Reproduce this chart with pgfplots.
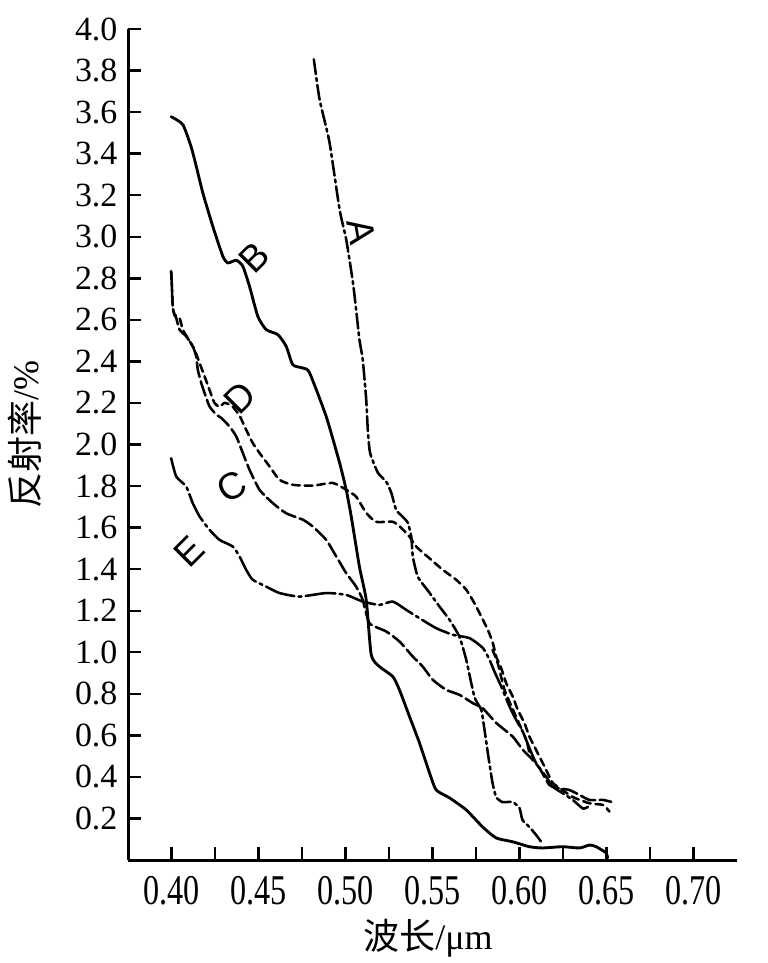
\documentclass[border=0pt]{standalone}
\usepackage{fontspec}
\usepackage{graphicx}
\usepackage{pgfplots}
\pgfplotsset{compat=1.18}
\setmainfont{Liberation Serif}
\setsansfont{Liberation Sans}
\newfontfamily\cjk{Noto Sans CJK SC}
\begin{document}
\begin{tikzpicture}
\begin{axis}[
  scale only axis,
  width=203pt, height=277pt,
  xmin=0.375, xmax=0.725, ymin=0, ymax=4.0,
  axis lines=left,
  axis line style={-, line width=1pt, black},
  tick align=inside,
  major tick length=4.2pt, minor tick length=4.2pt,
  tick style={line width=0.8pt, black},
  xtick={0.40,0.45,0.50,0.55,0.60,0.65,0.70},
  minor xtick={0.425,0.475,0.525,0.575,0.625,0.675},
  ytick={0.2,0.4,0.6,0.8,1.0,1.2,1.4,1.6,1.8,2.0,2.2,2.4,2.6,2.8,3.0,3.2,3.4,3.6,3.8,4.0},
  /pgf/number format/assume math mode=true,
  xticklabel={\scalebox{0.95}[1.25]{\pgfmathprintnumber[fixed,fixed zerofill,precision=2]{\tick}}},
  yticklabel={\pgfmathprintnumber[fixed,fixed zerofill,precision=1]{\tick}},
  ticklabel style={font=\fontsize{11.3}{13}\selectfont, black},
  xticklabel style={yshift=-2pt},
  xlabel={{\cjk 波长}/μm},
  ylabel={{\cjk 反射率}/\%},
  label style={font=\fontsize{12}{14}\selectfont},
  xlabel style={at={(axis description cs:0.4926,-0.094)}, anchor=center},
  ylabel style={at={(axis description cs:-0.17,0.5115)}, anchor=center, rotate=0},
  clip=false,
  every axis plot/.append style={black, line width=0.85pt, line join=round, line cap=round, smooth, tension=0.35},
]
% A
\addplot[dash pattern=on 5pt off 1.3pt on 1pt off 1.3pt] coordinates {
(0.4818,3.854)(0.4851,3.661)(0.4908,3.454)(0.4966,3.131)(0.5004,2.987)(0.5042,2.784)
(0.5061,2.649)(0.5080,2.505)(0.5099,2.408)(0.5119,2.216)(0.5128,2.071)(0.5138,1.975)
(0.5148,1.941)(0.5186,1.864)(0.5234,1.821)(0.5263,1.768)(0.5291,1.686)(0.5329,1.652)
(0.5358,1.623)(0.5378,1.556)(0.5387,1.460)(0.5416,1.363)(0.5483,1.286)(0.5540,1.220)
(0.5598,1.156)(0.5655,1.074)(0.5694,0.963)(0.5741,0.785)(0.5780,0.723)(0.5799,0.626)
(0.5818,0.515)(0.5845,0.371)(0.5866,0.303)(0.5902,0.279)(0.5960,0.279)(0.6000,0.250)
(0.6017,0.193)(0.6057,0.159)(0.6096,0.120)(0.6125,0.087)};
% B
\addplot[solid, line width=0.95pt] coordinates {
(0.3998,3.578)(0.4065,3.540)(0.4113,3.432)(0.4142,3.340)(0.4180,3.211)(0.4237,3.051)
(0.4295,2.906)(0.4324,2.874)(0.4372,2.887)(0.4410,2.858)(0.4448,2.762)(0.4496,2.617)
(0.4544,2.553)(0.4611,2.529)(0.4659,2.473)(0.4697,2.384)(0.4755,2.368)(0.4793,2.346)
(0.4889,2.135)(0.4966,1.912)(0.5004,1.782)(0.5033,1.653)(0.5080,1.412)(0.5119,1.252)
(0.5148,0.987)(0.5195,0.931)(0.5272,0.883)(0.5310,0.819)(0.5368,0.690)(0.5425,0.564)
(0.5483,0.419)(0.5521,0.337)(0.5598,0.299)(0.5694,0.241)(0.5787,0.160)(0.5866,0.106)
(0.5960,0.088)(0.6057,0.064)(0.6132,0.058)(0.6247,0.064)(0.6345,0.058)(0.6402,0.072)
(0.6441,0.064)(0.6498,0.034)(0.6506,0.010)};
% C
\addplot[dash pattern=on 5pt off 1.5pt] coordinates {
(0.3998,2.834)(0.4002,2.762)(0.4007,2.665)(0.4017,2.625)(0.4027,2.609)(0.4046,2.553)
(0.4084,2.521)(0.4122,2.473)(0.4142,2.424)(0.4151,2.360)(0.4171,2.296)(0.4190,2.248)
(0.4218,2.184)(0.4257,2.144)(0.4286,2.128)(0.4333,2.087)(0.4372,2.039)(0.4410,1.959)
(0.4448,1.879)(0.4506,1.782)(0.4582,1.718)(0.4659,1.669)(0.4755,1.638)(0.4812,1.605)
(0.4889,1.541)(0.4947,1.461)(0.5004,1.381)(0.5061,1.316)(0.5099,1.252)(0.5138,1.140)
(0.5234,1.100)(0.5310,1.052)(0.5387,0.979)(0.5444,0.931)(0.5502,0.867)(0.5579,0.819)
(0.5655,0.795)(0.5732,0.755)(0.5789,0.730)(0.5866,0.660)(0.5961,0.594)(0.6019,0.530)
(0.6067,0.490)(0.6115,0.442)(0.6172,0.361)(0.6230,0.345)(0.6287,0.337)(0.6345,0.313)
(0.6402,0.289)(0.6479,0.289)(0.6527,0.280)};
% D
\addplot[dash pattern=on 2.6pt off 1.6pt] coordinates {
(0.3998,2.834)(0.4002,2.762)(0.4007,2.665)(0.4017,2.625)(0.4046,2.609)(0.4065,2.553)
(0.4092,2.514)(0.4132,2.457)(0.4161,2.393)(0.4190,2.328)(0.4218,2.264)(0.4247,2.200)
(0.4276,2.182)(0.4305,2.201)(0.4333,2.192)(0.4352,2.182)(0.4391,2.139)(0.4429,2.071)
(0.4467,2.007)(0.4506,1.959)(0.4563,1.895)(0.4621,1.830)(0.4697,1.806)(0.4812,1.802)
(0.4927,1.815)(0.5004,1.782)(0.5061,1.749)(0.5119,1.671)(0.5176,1.628)(0.5272,1.628)
(0.5320,1.599)(0.5368,1.556)(0.5406,1.509)(0.5483,1.452)(0.5559,1.397)(0.5636,1.349)
(0.5694,1.301)(0.5741,1.236)(0.5780,1.172)(0.5818,1.108)(0.5847,1.044)(0.5866,0.979)
(0.5895,0.923)(0.5924,0.850)(0.5961,0.787)(0.5990,0.723)(0.6029,0.658)(0.6057,0.594)
(0.6105,0.514)(0.6153,0.434)(0.6191,0.371)(0.6247,0.337)(0.6306,0.303)(0.6402,0.273)
(0.6479,0.265)(0.6517,0.233)};
% extra doubled stroke
\addplot[dash pattern=on 2.6pt off 1.6pt] coordinates {
(0.5845,1.012)(0.5875,0.947)(0.5914,0.819)(0.5971,0.707)(0.6039,0.578)(0.6057,0.514)};
% E
\addplot[dash pattern=on 10pt off 1.4pt on 1pt off 1.4pt] coordinates {
(0.3998,1.934)(0.4027,1.846)(0.4084,1.798)(0.4122,1.718)(0.4161,1.654)(0.4218,1.590)
(0.4276,1.541)(0.4352,1.509)(0.4391,1.461)(0.4429,1.397)(0.4467,1.349)(0.4544,1.316)
(0.4621,1.285)(0.4736,1.268)(0.4889,1.285)(0.5004,1.276)(0.5099,1.244)(0.5195,1.228)
(0.5272,1.244)(0.5349,1.204)(0.5425,1.164)(0.5521,1.116)(0.5617,1.084)(0.5713,1.068)
(0.5789,1.021)(0.5828,0.963)(0.5856,0.907)(0.5895,0.835)(0.5943,0.738)(0.5981,0.674)
(0.6019,0.617)(0.6057,0.539)(0.6096,0.465)(0.6153,0.401)(0.6191,0.353)(0.6249,0.321)
(0.6306,0.289)(0.6364,0.248)(0.6393,0.256)};
\node[font=\sffamily\fontsize{12.5}{12}\selectfont, rotate=-80] at (axis cs:0.5092,3.025) {A};
\node[font=\sffamily\fontsize{12.5}{12}\selectfont, rotate=45] at (axis cs:0.4477,2.900) {B};
\node[font=\sffamily\fontsize{12.5}{12}\selectfont, rotate=45] at (axis cs:0.4391,2.225) {D};
\node[font=\sffamily\fontsize{12.5}{12}\selectfont, rotate=30] at (axis cs:0.4345,1.797) {C};
\node[font=\sffamily\fontsize{12.5}{12}\selectfont, rotate=45] at (axis cs:0.4103,1.484) {E};
\end{axis}
\pgfresetboundingbox
\path (-42.67pt,-34.33pt) rectangle (213.33pt,286.67pt);
\end{tikzpicture}
\end{document}
